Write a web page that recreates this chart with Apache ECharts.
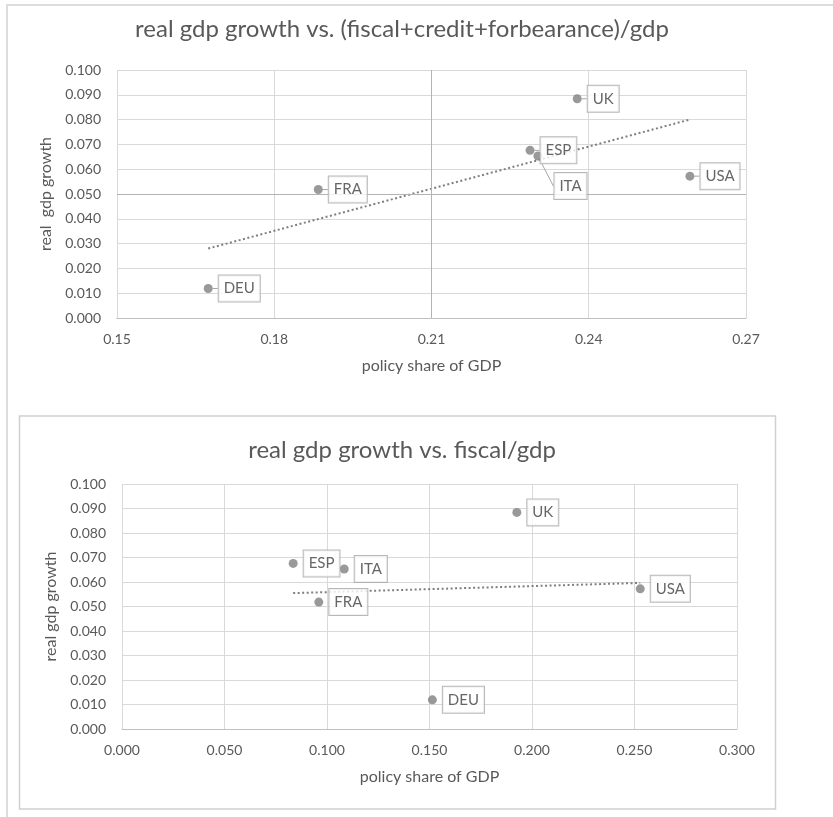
<!DOCTYPE html>
<html>
<head>
<meta charset="utf-8">
<script src="https://cdn.jsdelivr.net/npm/echarts@6/dist/echarts.min.js"></script>
<style>
  html, body { margin: 0; padding: 0; background: #fff; }
  #chart { width: 833px; height: 817px; }
</style>
</head>
<body>
<div id="chart"></div>
<script>
// Country codes shared by both scatter panels
const countries = ['DEU', 'FRA', 'ESP', 'ITA', 'UK', 'USA'];
// Real GDP growth (y values)
const gdpGrowth = [0.0119, 0.0518, 0.0676, 0.0653, 0.0884, 0.0572];
// (fiscal + credit + forbearance) / GDP
const policyShareTotal = [0.1674, 0.1884, 0.2288, 0.2303, 0.2378, 0.2593];
// fiscal / GDP
const policyShareFiscal = [0.1514, 0.0960, 0.0835, 0.1084, 0.1926, 0.2528];

// Axis ticks
const yTicks = { min: 0, max: 0.1, interval: 0.01 };
const xTicksTop = { min: 0.15, max: 0.27, interval: 0.03 };
const xTicksBottom = { min: 0, max: 0.3, interval: 0.05 };

const titles = [
  'real gdp growth vs. (fiscal+credit+forbearance)/gdp',
  'real gdp growth vs. fiscal/gdp'
];

const FONT = 'Lato, "Open Sans", sans-serif';
const TEXT = '#595959';
const GRID_LINE = '#d9d9d9';

// Ordinary least-squares fit, returned as the two end points of the line
function trendLine(xs, ys) {
  const n = xs.length;
  const mx = xs.reduce((a, b) => a + b, 0) / n;
  const my = ys.reduce((a, b) => a + b, 0) / n;
  let sxy = 0, sxx = 0;
  for (let i = 0; i < n; i++) {
    sxy += (xs[i] - mx) * (ys[i] - my);
    sxx += (xs[i] - mx) * (xs[i] - mx);
  }
  const slope = sxy / sxx;
  const x0 = Math.min(...xs), x1 = Math.max(...xs);
  return [[x0, my + slope * (x0 - mx)], [x1, my + slope * (x1 - mx)]];
}

function points(xs) {
  return xs.map((x, i) => ({ name: countries[i], value: [x, gdpGrowth[i]] }));
}

const labelStyle = {
  show: true,
  position: 'right',
  distance: 6,
  formatter: p => p.name,
  fontFamily: FONT,
  fontSize: 15,
  color: '#404040',
  backgroundColor: '#fff',
  borderColor: '#a6a6a6',
  borderWidth: 1,
  padding: [5, 5, 5, 5],
  lineHeight: 16
};

function yAxis(gridIndex, name, nameGap) {
  return {
    type: 'value', gridIndex,
    min: yTicks.min, max: yTicks.max, interval: yTicks.interval,
    name, nameLocation: 'middle', nameGap,
    nameTextStyle: { fontFamily: FONT, fontSize: 16, color: TEXT },
    axisLine: { show: false },
    axisTick: { show: false },
    axisLabel: { fontFamily: FONT, fontSize: 14, color: TEXT, margin: 16,
      formatter: v => v.toFixed(3) },
    splitLine: { show: true, lineStyle: { color: GRID_LINE, width: 1 } }
  };
}

function xAxis(gridIndex, ticks, digits) {
  return {
    type: 'value', gridIndex,
    min: ticks.min, max: ticks.max, interval: ticks.interval,
    name: 'policy share of GDP', nameLocation: 'middle', nameGap: 40,
    nameTextStyle: { fontFamily: FONT, fontSize: 16, color: TEXT },
    axisLine: { show: true, onZero: false, lineStyle: { color: '#bfbfbf', width: 1 } },
    axisTick: { show: false },
    axisLabel: { fontFamily: FONT, fontSize: 14, color: TEXT, margin: 14,
      formatter: v => v.toFixed(digits) },
    splitLine: { show: true, lineStyle: { color: GRID_LINE, width: 1 } }
  };
}

const trendStyle = { color: '#7f7f7f', width: 2, type: [2, 2.5] };

const option = {
  animation: false,
  backgroundColor: '#fff',
  title: [
    { text: titles[0], left: 397, top: 12, textAlign: 'center',
      textStyle: { fontFamily: FONT, fontSize: 24, fontWeight: 'normal', color: TEXT } },
    { text: titles[1], left: 397, top: 433, textAlign: 'center',
      textStyle: { fontFamily: FONT, fontSize: 24, fontWeight: 'normal', color: TEXT } }
  ],
  graphic: [
    { type: 'line', shape: { x1: 6, y1: 5, x2: 833, y2: 5 },
      style: { stroke: '#dcdcdc', lineWidth: 2 }, silent: true },
    { type: 'line', shape: { x1: 7, y1: 5, x2: 7, y2: 817 },
      style: { stroke: '#dcdcdc', lineWidth: 2 }, silent: true },
    { type: 'rect', shape: { x: 19.5, y: 416, width: 756, height: 393 },
      style: { fill: 'none', stroke: '#d0d0d0', lineWidth: 1.5 }, silent: true }
  ],
  grid: [
    { left: 117, top: 70, width: 629, height: 248 },
    { left: 122, top: 484, width: 615, height: 245 }
  ],
  xAxis: [xAxis(0, xTicksTop, 2), xAxis(1, xTicksBottom, 3)],
  yAxis: [yAxis(0, 'real  gdp growth', 62), yAxis(1, 'real gdp growth', 56)],
  series: [
    {
      type: 'line', xAxisIndex: 0, yAxisIndex: 0,
      data: trendLine(policyShareTotal, gdpGrowth),
      showSymbol: false, symbol: 'none', silent: true,
      lineStyle: trendStyle, z: 3,
      markLine: {
        silent: true, symbol: 'none', label: { show: false },
        lineStyle: { color: '#b3b3b3', width: 1, type: 'solid' },
        data: [{ xAxis: 0.21 }, { yAxis: 0.05 }]
      }
    },
    {
      type: 'scatter', xAxisIndex: 0, yAxisIndex: 0,
      data: points(policyShareTotal),
      symbolSize: 9,
      itemStyle: { color: '#7f7f7f' },
      label: labelStyle,
      labelLine: { show: true, lineStyle: { color: '#a6a6a6', width: 1 } },
      labelLayout: p => (p.dataIndex === 3 ? { dx: 6, dy: 30 } : {}),
      z: 5
    },
    {
      type: 'line', xAxisIndex: 1, yAxisIndex: 1,
      data: trendLine(policyShareFiscal, gdpGrowth),
      showSymbol: false, symbol: 'none', silent: true,
      lineStyle: trendStyle, z: 3
    },
    {
      type: 'scatter', xAxisIndex: 1, yAxisIndex: 1,
      data: points(policyShareFiscal),
      symbolSize: 9,
      itemStyle: { color: '#7f7f7f' },
      label: labelStyle,
      z: 5
    }
  ]
};

const chart = echarts.init(document.getElementById('chart'), null, { renderer: 'canvas' });
chart.setOption(option);
</script>
</body>
</html>
